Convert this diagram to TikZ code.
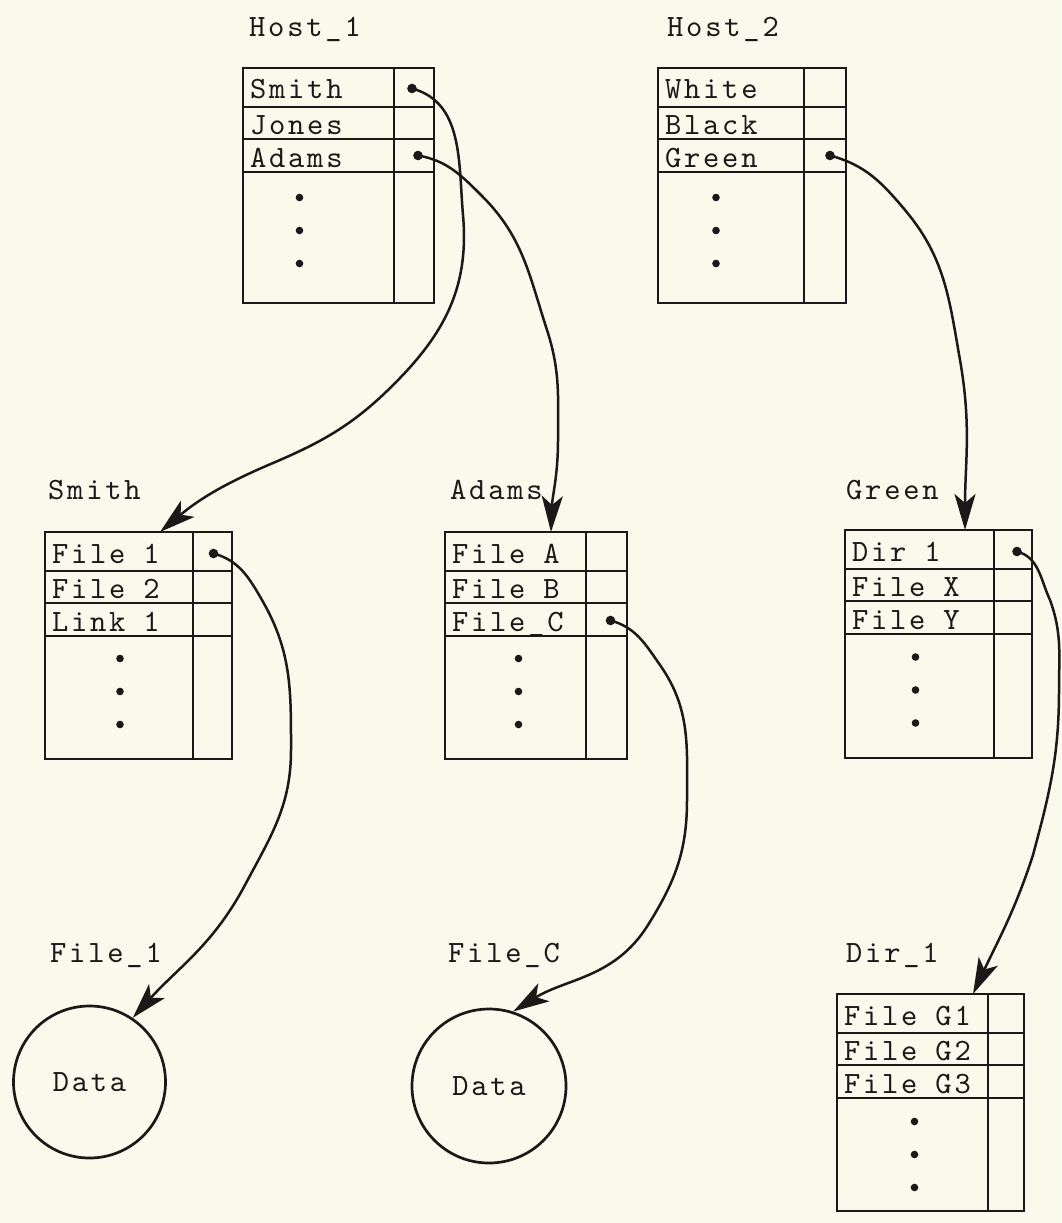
\documentclass[tikz,border=0pt]{standalone}
\usepackage{fontspec}
\newfontfamily\tw{lmmono10-regular}[Extension=.otf,LetterSpace=9]
\usetikzlibrary{arrows.meta}
\definecolor{bg}{RGB}{250,249,236}
\definecolor{ink}{RGB}{28,24,24}
\newcommand\gap{\kern 18pt\relax}
\tikzset{
 tt/.style={font=\tw\fontsize{31}{31}\selectfont, text=ink},
 lcell/.style={tt, draw=ink, line width=2.7pt, outer sep=0pt, inner xsep=7pt, inner ysep=0pt, anchor=north west, align=left, text height=24pt, text depth=1pt},
 pcell/.style={draw=ink, line width=2.7pt, outer sep=0pt, inner sep=0pt, anchor=north west},
 lbl/.style={tt, anchor=base west, inner sep=0pt},
 datac/.style={tt, circle, draw=ink, line width=2.7pt, inner sep=0pt},
 conn/.style={draw=ink, line width=2.5pt, -{Stealth[length=36pt,width=21pt,inset=9pt]}},
}
% #1 name, #2 left, #3 top, #4 label col width, #5 pointer col width, #6-#8 entries, #9 height of lower block
\newcommand\dtable[9]{%
 \pgfmathsetmacro\twd{#4-14}%
 \node[lcell,text width=\twd pt,minimum width=#4pt,minimum height=39pt] (#1-1) at (#2,-#3) {#6};
 \node[pcell,minimum width=#5pt,minimum height=39pt] (#1-1p) at (#1-1.north east) {};
 \node[lcell,text width=\twd pt,minimum width=#4pt,minimum height=32pt] (#1-2) at (#1-1.south west) {#7};
 \node[pcell,minimum width=#5pt,minimum height=32pt] (#1-2p) at (#1-2.north east) {};
 \node[lcell,text width=\twd pt,minimum width=#4pt,minimum height=33pt] (#1-3) at (#1-2.south west) {#8};
 \node[pcell,minimum width=#5pt,minimum height=33pt] (#1-3p) at (#1-3.north east) {};
 \node[lcell,text width=\twd pt,minimum width=#4pt,minimum height=#9pt] (#1-4) at (#1-3.south west) {};
 \node[pcell,minimum width=#5pt,minimum height=#9pt] (#1-4p) at (#1-4.north east) {};
}
\newcommand\colldots[3]{%
 \foreach \dy in {33,0,-33} {\fill[ink] ([xshift=#2pt,yshift=#3pt+\dy pt]#1.center) circle (3.8pt);}%
}
\begin{document}
\begin{tikzpicture}[x=1pt,y=1pt]
\fill[bg] (0,0) rectangle (1061,-1223);
\useasboundingbox (0,0) rectangle (1061,-1223);

% labels
\node[lbl] (lh1) at (249,-37) {Host\_1};
\node[lbl] (lh2) at (667,-37) {Host\_2};
\node[lbl] (lsm) at (48,-499) {Smith};
\node[lbl] (lad) at (450,-499) {Adams};
\node[lbl] (lgr) at (846,-499) {Green};
\node[lbl] (lf1) at (50,-962) {File\_1};
\node[lbl] (lfc) at (448,-962) {File\_C};
\node[lbl] (ld1) at (846,-962) {Dir\_1};

% tables
\dtable{h1}{243}{68}{151}{40}{Smith}{Jones}{Adams}{131}
\dtable{h2}{658}{68}{146}{42}{White}{Black}{Green}{131}
\dtable{sm}{45}{532}{148}{39}{File\gap 1}{File\gap 2}{Link\gap 1}{123}
\dtable{ad}{445}{532}{141}{41}{File\gap A}{File\gap B}{File\_C}{123}
\dtable{gr}{845}{530}{149}{38}{Dir\gap 1}{File\gap X}{File\gap Y}{124}
\dtable{dr}{837}{994}{151}{36}{File\gap G1}{File\gap G2}{File\gap G3}{113}

\colldots{h1-4}{-19}{7}
\colldots{h2-4}{-15}{7}
\colldots{sm-4}{1}{6}
\colldots{ad-4}{3}{6}
\colldots{gr-4}{-4}{6}
\colldots{dr-4}{2}{0}

% data circles
\node[datac,minimum size=152pt] (d1) at (89.5,-1082) {Data};
\node[datac,minimum size=154pt] (d2) at (489,-1086) {Data};

% pointer origins
\coordinate (p1) at ([xshift=-2pt,yshift=-1pt]h1-1p.center);
\coordinate (p2) at ([xshift=4pt]h1-3p.center);
\coordinate (p3) at ([xshift=5pt]h2-3p.center);
\coordinate (p4) at ([xshift=1pt,yshift=-2pt]sm-1p.center);
\coordinate (p5) at ([xshift=4pt,yshift=-1pt]ad-3p.center);
\coordinate (p6) at ([xshift=4pt,yshift=-2pt]gr-1p.center);
\foreach \p in {p1,p2,p3,p4,p5,p6} {\fill[ink] (\p) circle (4.8pt);}

% connectors
\draw[conn] (p1) to[out=-15,in=95] (463,-215) to[out=-85,in=46] (400,-378)
  to[out=-134,in=23] (273,-463) to[out=-157,in=40] ([xshift=-33pt]sm-1.north east);
\draw[conn] (p2) to[out=-10,in=135] (482,-196) to[out=-45,in=108] (547,-330)
  to[out=-72,in=90] (558,-440) to[out=-90,in=88] ([xshift=-35pt]ad-1.north east);
\draw[conn] (p3) to[out=-15,in=130] (905,-210) to[out=-50,in=100] (960,-360)
  to[out=-80,in=90] ([xshift=-29pt]gr-1.north east);
\draw[conn] (p4) to[out=-15,in=120] (262,-600) to[out=-60,in=90] (291,-750)
  to[out=-90,in=62] (245,-885) to[out=-118,in=48] (d1.56);
\draw[conn] (p5) to[out=-15,in=125] (660,-665) to[out=-55,in=90] (687,-800)
  to[out=-90,in=58] (648,-925) to[out=-122,in=32] (d2.72);
\draw[conn] (p6) to[out=-15,in=115] (1050,-600) to[out=-70,in=90] (1059,-690)
  to[out=-90,in=75] (1033,-855) to[out=-108,in=65] ([xshift=-15pt]dr-1.north east);
\end{tikzpicture}
\end{document}
